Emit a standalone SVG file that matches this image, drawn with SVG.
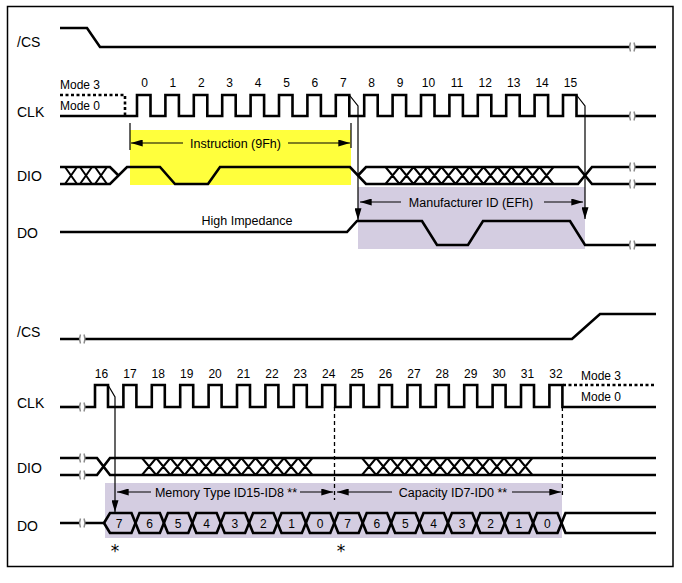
<svg xmlns="http://www.w3.org/2000/svg" width="682" height="583" viewBox="0 0 682 583">
<defs>
<style>
.sig{fill:none;stroke:#000;stroke-width:2.6;stroke-linejoin:miter}
.x{fill:none;stroke:#000;stroke-width:2}
.thin{fill:none;stroke:#000;stroke-width:1.2}
.dash{fill:none;stroke:#000;stroke-width:1.3;stroke-dasharray:4 3}
.dot{fill:none;stroke:#000;stroke-width:2.6;stroke-dasharray:3 2.5}
.brk{fill:none;stroke:#8a8a8a;stroke-width:1.4}
.name{font-family:"Liberation Sans",Arial,sans-serif;font-size:14px;fill:#000}
.num{font-family:"Liberation Sans",Arial,sans-serif;font-size:12px;fill:#000;text-anchor:middle}
.mode{font-family:"Liberation Sans",Arial,sans-serif;font-size:12px;fill:#000}
.lab{font-family:"Liberation Sans",Arial,sans-serif;font-size:12.5px;fill:#000;text-anchor:middle}
.dig{font-family:"Liberation Sans",Arial,sans-serif;font-size:12px;fill:#000;text-anchor:middle}
.ast{font-family:"DejaVu Sans",sans-serif;font-size:17px;fill:#000;text-anchor:middle}
</style>
<marker id="ah" viewBox="0 0 10 6" refX="10" refY="3" markerWidth="12" markerHeight="7" markerUnits="userSpaceOnUse" orient="auto">
<path d="M0,0 L10,3 L0,6 Z" fill="#000"/>
</marker>
</defs>
<rect x="0" y="0" width="682" height="583" fill="#fff"/>
<rect x="7.5" y="6.5" width="665.5" height="560" fill="none" stroke="#000" stroke-width="1.5"/>

<!-- shaded regions -->
<rect x="130" y="130" width="221" height="55" fill="#ffff3c"/>
<rect x="358" y="187" width="227" height="62" fill="#d4cde1"/>
<rect x="105" y="483" width="457" height="55" fill="#d4cde1"/>

<!-- signal names -->
<g id="names">
<text class="name" x="17" y="47">/CS</text>
<text class="name" x="17" y="117">CLK</text>
<text class="name" x="17" y="181">DIO</text>
<text class="name" x="17" y="238">DO</text>
<text class="name" x="17" y="337">/CS</text>
<text class="name" x="17" y="408">CLK</text>
<text class="name" x="17" y="473">DIO</text>
<text class="name" x="17" y="531">DO</text>
</g>

<!-- top /CS -->
<g id="cs-top">
<path class="sig" d="M60,28 H87 L100,47 H629"/>
<path class="sig" d="M635,47 H656"/>
</g>

<!-- top CLK -->
<g id="clk-top">
<path class="dot" d="M60,95 H125 V116"/>
<text class="mode" x="60" y="89">Mode 3</text>
<text class="mode" x="60" y="110">Mode 0</text>
<path class="sig" d="M60,116 H137 V95 H150.5 V116 H165.4 V95 H178.9 V116 H193.8 V95 H207.3 V116 H222.2 V95 H235.7 V116 H250.6 V95 H264.1 V116 H279 V95 H292.5 V116 H307.4 V95 H320.9 V116 H335.8 V95 H349.3 V116 H364.2 V95 H377.7 V116 H392.6 V95 H406.1 V116 H421 V95 H434.5 V116 H449.4 V95 H462.9 V116 H477.8 V95 H491.3 V116 H506.2 V95 H519.7 V116 H534.6 V95 H548.1 V116 H563 V95 H576.5 V116 H629"/>
<path class="sig" d="M635,116 H656"/>
<text class="num" x="144.5" y="87">0</text>
<text class="num" x="172.9" y="87">1</text>
<text class="num" x="201.3" y="87">2</text>
<text class="num" x="229.7" y="87">3</text>
<text class="num" x="258.1" y="87">4</text>
<text class="num" x="286.5" y="87">5</text>
<text class="num" x="314.9" y="87">6</text>
<text class="num" x="343.3" y="87">7</text>
<text class="num" x="371.7" y="87">8</text>
<text class="num" x="400.1" y="87">9</text>
<text class="num" x="428.5" y="87">10</text>
<text class="num" x="456.9" y="87">11</text>
<text class="num" x="485.3" y="87">12</text>
<text class="num" x="513.7" y="87">13</text>
<text class="num" x="542.1" y="87">14</text>
<text class="num" x="570.5" y="87">15</text>
</g>

<!-- top DIO -->
<g id="dio-top">
<path class="sig" d="M60,167 H110 L118.5,175.5"/>
<path class="sig" d="M60,184 H110 L127,167 H160 L175,184 H208 L220,167 H350 L366,184 H578 L592,167 H629"/>
<path class="sig" d="M358,175.5 L366,167 H578 L592,184 H629"/>
<path class="sig" d="M635,167 H656 M635,184 H656"/>
<path class="x" d="M65,167 l12,17 m-12,0 l12,-17 M80,167 l12,17 m-12,0 l12,-17 M95,167 l12,17 m-12,0 l12,-17"/>
<path class="x" d="M385.5,167 l14,17 m-14,0 l14,-17 M399.5,167 l14,17 m-14,0 l14,-17 M413.5,167 l14,17 m-14,0 l14,-17 M427.5,167 l14,17 m-14,0 l14,-17 M441.5,167 l14,17 m-14,0 l14,-17 M455.5,167 l14,17 m-14,0 l14,-17 M469.5,167 l14,17 m-14,0 l14,-17 M483.5,167 l14,17 m-14,0 l14,-17 M497.5,167 l14,17 m-14,0 l14,-17 M511.5,167 l14,17 m-14,0 l14,-17 M525.5,167 l14,17 m-14,0 l14,-17 M539.5,167 l14,17 m-14,0 l14,-17"/>
</g>

<!-- top DO -->
<g id="do-top">
<path class="sig" d="M60,232 H347 L357,221 H422 L437,245 H468 L483,221 H570 L585,245 H629"/>
<path class="sig" d="M635,245 H656"/>
<text class="lab" x="247" y="225">High Impedance</text>
</g>

<!-- bottom /CS -->
<g id="cs-bot">
<path class="sig" d="M60,339 H79 M85,339 H572 L600,314 H656"/>
</g>

<!-- bottom CLK -->
<g id="clk-bot">
<path class="sig" d="M60,407 H79"/>
<path class="sig" d="M85,407 H95 V385 H108 V407 H123.4 V385 H136.4 V407 H151.8 V385 H164.8 V407 H180.2 V385 H193.2 V407 H208.6 V385 H221.6 V407 H237 V385 H250 V407 H265.4 V385 H278.4 V407 H293.8 V385 H306.8 V407 H322.2 V385 H335.2 V407 H350.6 V385 H363.6 V407 H379 V385 H392 V407 H407.4 V385 H420.4 V407 H435.8 V385 H448.8 V407 H464.2 V385 H477.2 V407 H492.6 V385 H505.6 V407 H521 V385 H534 V407 H549.4 V385 H562.4 V407 H656"/>
<path class="dot" d="M563,385 H656"/>
<text class="mode" x="581" y="380">Mode 3</text>
<text class="mode" x="581" y="401">Mode 0</text>
<text class="num" x="101.5" y="378">16</text>
<text class="num" x="129.9" y="378">17</text>
<text class="num" x="158.3" y="378">18</text>
<text class="num" x="186.7" y="378">19</text>
<text class="num" x="215.1" y="378">20</text>
<text class="num" x="243.5" y="378">21</text>
<text class="num" x="271.9" y="378">22</text>
<text class="num" x="300.3" y="378">23</text>
<text class="num" x="328.7" y="378">24</text>
<text class="num" x="357.1" y="378">25</text>
<text class="num" x="385.5" y="378">26</text>
<text class="num" x="413.9" y="378">27</text>
<text class="num" x="442.3" y="378">28</text>
<text class="num" x="470.7" y="378">29</text>
<text class="num" x="499.1" y="378">30</text>
<text class="num" x="527.5" y="378">31</text>
<text class="num" x="555.9" y="378">32</text>
</g>

<!-- bottom DIO -->
<g id="dio-bot">
<path class="sig" d="M60,458 H79 M60,475 H79"/>
<path class="sig" d="M85,458 H97 L110,475 H656 M85,475 H97 L110,458 H656"/>
<path class="x" d="M142,458 l14.2,17 m-14.2,0 l14.2,-17 M156.2,458 l14.2,17 m-14.2,0 l14.2,-17 M170.4,458 l14.2,17 m-14.2,0 l14.2,-17 M184.6,458 l14.2,17 m-14.2,0 l14.2,-17 M198.8,458 l14.2,17 m-14.2,0 l14.2,-17 M213,458 l14.2,17 m-14.2,0 l14.2,-17 M227.2,458 l14.2,17 m-14.2,0 l14.2,-17 M241.4,458 l14.2,17 m-14.2,0 l14.2,-17 M255.6,458 l14.2,17 m-14.2,0 l14.2,-17 M269.8,458 l14.2,17 m-14.2,0 l14.2,-17 M284,458 l14.2,17 m-14.2,0 l14.2,-17 M298.2,458 l14.2,17 m-14.2,0 l14.2,-17"/>
<path class="x" d="M362,458 l14.2,17 m-14.2,0 l14.2,-17 M376.2,458 l14.2,17 m-14.2,0 l14.2,-17 M390.4,458 l14.2,17 m-14.2,0 l14.2,-17 M404.6,458 l14.2,17 m-14.2,0 l14.2,-17 M418.8,458 l14.2,17 m-14.2,0 l14.2,-17 M433,458 l14.2,17 m-14.2,0 l14.2,-17 M447.2,458 l14.2,17 m-14.2,0 l14.2,-17 M461.4,458 l14.2,17 m-14.2,0 l14.2,-17 M475.6,458 l14.2,17 m-14.2,0 l14.2,-17 M489.8,458 l14.2,17 m-14.2,0 l14.2,-17 M504,458 l14.2,17 m-14.2,0 l14.2,-17 M518.2,458 l14.2,17 m-14.2,0 l14.2,-17"/>
</g>

<!-- bottom DO -->
<g id="do-bot">
<path class="sig" d="M60,523 H79 M85,523 H104"/>
<path class="sig" d="M104,523 L110,513 H131.5 L139.5,533 H159.9 L167.9,513 H188.3 L196.3,533 H216.7 L224.7,513 H245.1 L253.1,533 H273.5 L281.5,513 H301.9 L309.9,533 H330.3 L338.3,513 H358.7 L366.7,533 H387.1 L395.1,513 H415.5 L423.5,533 H443.9 L451.9,513 H472.3 L480.3,533 H500.7 L508.7,513 H529.1 L537.1,533 H557.5 L565.5,513 H656"/>
<path class="sig" d="M104,523 L110,533 H131.5 L139.5,513 H159.9 L167.9,533 H188.3 L196.3,513 H216.7 L224.7,533 H245.1 L253.1,513 H273.5 L281.5,533 H301.9 L309.9,513 H330.3 L338.3,533 H358.7 L366.7,513 H387.1 L395.1,533 H415.5 L423.5,513 H443.9 L451.9,533 H472.3 L480.3,513 H500.7 L508.7,533 H529.1 L537.1,513 H557.5 L565.5,533 H656"/>
<text class="dig" x="119" y="527.5">7</text>
<text class="dig" x="149.7" y="527.5">6</text>
<text class="dig" x="178.1" y="527.5">5</text>
<text class="dig" x="206.5" y="527.5">4</text>
<text class="dig" x="234.9" y="527.5">3</text>
<text class="dig" x="263.3" y="527.5">2</text>
<text class="dig" x="291.7" y="527.5">1</text>
<text class="dig" x="320.1" y="527.5">0</text>
<text class="dig" x="347.5" y="527.5">7</text>
<text class="dig" x="376.9" y="527.5">6</text>
<text class="dig" x="405.3" y="527.5">5</text>
<text class="dig" x="433.7" y="527.5">4</text>
<text class="dig" x="462.1" y="527.5">3</text>
<text class="dig" x="490.5" y="527.5">2</text>
<text class="dig" x="518.9" y="527.5">1</text>
<text class="dig" x="547.3" y="527.5">0</text>
<text class="ast" x="115" y="557">*</text>
<text class="ast" x="341" y="557">*</text>
</g>

<!-- break marks -->
<g id="breaks">
<path class="brk" d="M630.5,42.5 q-1.8,4.5 0,9 M634,42.5 q1.8,4.5 0,9"/>
<path class="brk" d="M630.5,111.5 q-1.8,4.5 0,9 M634,111.5 q1.8,4.5 0,9"/>
<path class="brk" d="M630.5,162.5 q-1.8,4.5 0,9 M634,162.5 q1.8,4.5 0,9"/>
<path class="brk" d="M630.5,179.5 q-1.8,4.5 0,9 M634,179.5 q1.8,4.5 0,9"/>
<path class="brk" d="M630.5,240.5 q-1.8,4.5 0,9 M634,240.5 q1.8,4.5 0,9"/>
<path class="brk" d="M80.5,334.5 q-1.8,4.5 0,9 M84,334.5 q1.8,4.5 0,9"/>
<path class="brk" d="M80.5,402.5 q-1.8,4.5 0,9 M84,402.5 q1.8,4.5 0,9"/>
<path class="brk" d="M80.5,453.5 q-1.8,4.5 0,9 M84,453.5 q1.8,4.5 0,9"/>
<path class="brk" d="M80.5,470.5 q-1.8,4.5 0,9 M84,470.5 q1.8,4.5 0,9"/>
<path class="brk" d="M80.5,518.5 q-1.8,4.5 0,9 M84,518.5 q1.8,4.5 0,9"/>
</g>

<!-- connectors / annotations -->
<g id="connectors">
<path class="thin" d="M130,123 V150 M351,123 V148"/>
<path class="thin" d="M183,143 H131" marker-end="url(#ah)"/>
<path class="thin" d="M288,143 H350" marker-end="url(#ah)"/>
<text class="lab" x="235.5" y="147.5">Instruction (9Fh)</text>
<path class="thin" d="M349.3,95 L358,106 V220" marker-end="url(#ah)"/>
<path class="thin" d="M576.5,95 L585,106 V219" marker-end="url(#ah)"/>
<path class="thin" d="M401,202 H360" marker-end="url(#ah)"/>
<path class="thin" d="M544,202 H583" marker-end="url(#ah)"/>
<text class="lab" x="471" y="206.5">Manufacturer ID (EFh)</text>
<path class="thin" d="M108,385 L115,397 V512" marker-end="url(#ah)"/>
<path class="dash" d="M334.5,407 V500"/>
<path class="dash" d="M562.4,407 V495"/>
<path class="thin" d="M151,492 H117" marker-end="url(#ah)"/>
<path class="thin" d="M300,492 H333" marker-end="url(#ah)"/>
<text class="lab" x="226" y="496.5">Memory Type ID15-ID8 **</text>
<path class="thin" d="M392,492 H337" marker-end="url(#ah)"/>
<path class="thin" d="M512,492 H561" marker-end="url(#ah)"/>
<text class="lab" x="453" y="496.5">Capacity ID7-ID0 **</text>
</g>
</svg>
